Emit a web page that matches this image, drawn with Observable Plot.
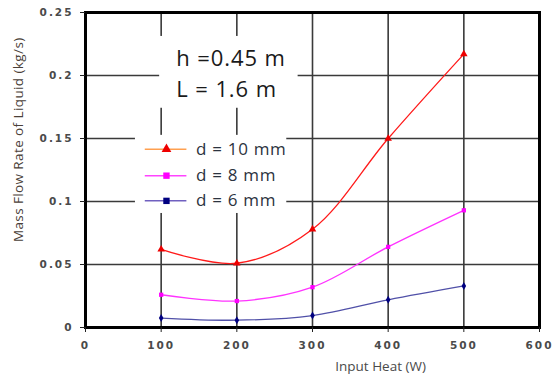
<!DOCTYPE html>
<html>
<head>
<meta charset="utf-8">
<script src="https://cdn.jsdelivr.net/npm/d3@7"></script>
<script src="https://cdn.jsdelivr.net/npm/@observablehq/plot@0.6"></script>
<style>
  html, body { margin: 0; padding: 0; background: #fff; }
  #chart { width: 554px; height: 377px; }
</style>
</head>
<body>
<div id="chart"></div>
<script>
// ---- data ----
const heat = [100, 200, 300, 400, 500];
const d10 = [0.062, 0.051, 0.078, 0.150, 0.217];
const d8  = [0.026, 0.021, 0.032, 0.064, 0.093];
const d6  = [0.0075, 0.0058, 0.0095, 0.022, 0.033];

const xTicks = [0, 100, 200, 300, 400, 500, 600];
const yTicks = [0, 0.05, 0.1, 0.15, 0.2, 0.25];
const xGrid = [100, 200, 300, 400, 500];
const yGrid = [0.05, 0.1, 0.15, 0.2];

const seriesNames = ["d = 10 mm", "d = 8 mm", "d = 6 mm"];
const lineColors = ["#ff1a1a", "#ff33ff", "#5050a8"];
const markerColors = ["#ee0000", "#ff00ff", "#000080"];
const legendLineColors = ["#ffa050", "#ff44ff", "#7060c0"];
const symbols = ["triangle", "square", "diamond"];

const annotation = ["h =0.45 m", "L = 1.6 m"];
const xTitle = "Input Heat (W)";
const yTitle = "Mass Flow Rate of Liquid (kg/s)";

// ---- build table ----
const values = [d10, d8, d6];
const rows = [];
seriesNames.forEach((name, i) => {
  heat.forEach((h, j) => rows.push({series: name, idx: i, heat: h, flow: values[i][j]}));
});

// annotation / legend placement (data space)
const noteBox = {x1: 98, x2: 281, y1: 0.174, y2: 0.231};
const legendBox = {x1: 66, x2: 266, y1: 0.0905, y2: 0.1525};
const legendY = [0.1415, 0.1205, 0.1005];
const legendItems = seriesNames.map((name, i) => ({
  name, y: legendY[i], line: legendLineColors[i], marker: markerColors[i], symbol: symbols[i]
}));
const noteItems = [{t: annotation[0], y: 0.2128}, {t: annotation[1], y: 0.1888}];

const marks = [
  Plot.ruleX(xGrid, {stroke: "#3a3a3a", strokeWidth: 1.6}),
  Plot.ruleY(yGrid, {stroke: "#3a3a3a", strokeWidth: 1.6}),
  Plot.rect([noteBox], {x1: "x1", x2: "x2", y1: "y1", y2: "y2", fill: "white"}),
  Plot.rect([legendBox], {x1: "x1", x2: "x2", y1: "y1", y2: "y2", fill: "white"}),
];

seriesNames.forEach((name, i) => {
  const data = rows.filter(r => r.idx === i);
  marks.push(Plot.line(data, {x: "heat", y: "flow", stroke: lineColors[i], strokeWidth: 1.3, curve: "catmull-rom"}));
  marks.push(Plot.dot(data, {x: "heat", y: "flow", symbol: () => symbols[i], fill: markerColors[i], stroke: "none", r: i === 0 ? 2.8 : 2.4}));
});

// legend
legendItems.forEach((it, i) => {
  marks.push(Plot.ruleY([it], {y: "y", x1: 79, x2: 134, stroke: it.line, strokeWidth: 1.5}));
  marks.push(Plot.dot([it], {x: 107, y: "y", symbol: () => it.symbol === "diamond" ? "square" : it.symbol, fill: it.marker, r: 3.6}));
  marks.push(Plot.text([it], {x: 146, y: "y", text: "name", textAnchor: "start", fontSize: 17, fill: "#2c3340",
    fontFamily: "Open Sans"}));
});

// annotation text
marks.push(Plot.text(noteItems, {x: 120, y: "y", text: "t", textAnchor: "start", fontSize: 22, fill: "#1a1a1a",
  fontFamily: "Open Sans"}));

marks.push(Plot.frame({stroke: "black", strokeWidth: 3}));

marks.push(Plot.axisX({ticks: xTicks, tickSize: 5, tickPadding: 9, label: null, stroke: "#222",
  fill: "#4a4a4a", fontWeight: "bold", fontSize: 10.5, tickFormat: d => String(d)}));
marks.push(Plot.axisY({ticks: yTicks, tickSize: 5, tickPadding: 7, label: null, stroke: "#222",
  fill: "#4a4a4a", fontWeight: "bold", fontSize: 10.5, tickFormat: d => String(d)}));

marks.push(Plot.text([xTitle], {x: 390, frameAnchor: "bottom", dy: 43, text: d => d, fontSize: 13.5,
  fill: "#4a4a4a", fontFamily: "Open Sans"}));
marks.push(Plot.text([yTitle], {y: 0.149, x: -88, rotate: -90, text: d => d, fontSize: 13.5,
  fill: "#4a4038", fontFamily: "Open Sans"}));

const chart = Plot.plot({
  width: 554,
  height: 377,
  marginLeft: 85,
  marginRight: 15,
  marginTop: 12,
  marginBottom: 50,
  x: {domain: [0, 600]},
  y: {domain: [0, 0.25]},
  style: {fontFamily: "DejaVu Sans", background: "white"},
  marks
});
document.getElementById("chart").appendChild(chart);
// letter spacing to match the wide reference texts
chart.querySelectorAll("g[aria-label='x-axis tick label'] text, g[aria-label='y-axis tick label'] text")
  .forEach(t => t.setAttribute("letter-spacing", "2"));
chart.querySelectorAll("text").forEach(t => {
  const s = t.textContent;
  if (seriesNames.includes(s)) t.setAttribute("letter-spacing", "0.7");
  if (annotation.includes(s)) t.setAttribute("letter-spacing", "0.9");
  if (s === yTitle) t.setAttribute("letter-spacing", "0.4");
});
</script>
</body>
</html>
